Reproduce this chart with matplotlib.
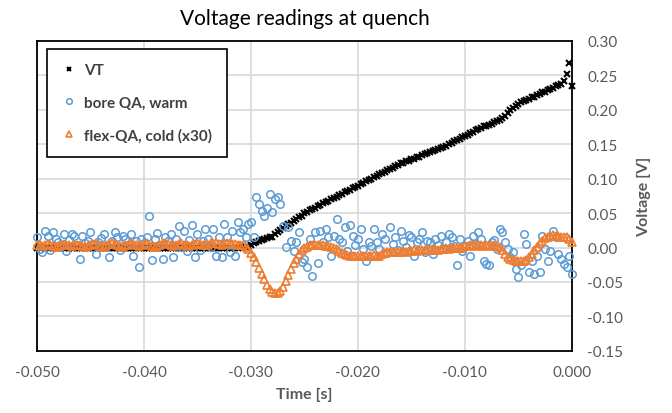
import numpy as np
import matplotlib
matplotlib.use("Agg")
import matplotlib.pyplot as plt

plt.rcParams['font.family'] = ['Lato', 'DejaVu Sans']

# sampling grid of the scope trace, 0.25 ms steps from -50 ms to 0
dt = 0.00025
n_samples = 201

# VT [V]
vt = [
    0.000, 0.000, 0.000, 0.000, 0.000, 0.000, 0.000, 0.000, 0.000, 0.000,
    0.000, 0.000, 0.000, 0.000, 0.000, 0.000, 0.000, 0.000, 0.000, 0.000,
    0.000, 0.000, 0.000, 0.000, 0.000, 0.000, 0.000, 0.000, 0.000, 0.000,
    0.000, 0.000, 0.000, 0.000, 0.000, 0.000, 0.000, 0.000, 0.000, 0.000,
    0.000, 0.000, 0.000, 0.000, 0.000, 0.000, 0.000, 0.000, 0.000, 0.000,
    0.000, 0.000, 0.000, 0.000, 0.000, 0.000, 0.000, 0.000, 0.000, 0.000,
    0.000, 0.000, 0.000, 0.000, 0.000, 0.000, 0.000, 0.000, 0.000, 0.000,
    0.000, 0.000, 0.000, 0.000, 0.000, 0.000, 0.001, 0.001, 0.001, 0.002,
    0.004, 0.006, 0.008, 0.010, 0.011, 0.012, 0.014, 0.015, 0.016, 0.019,
    0.022, 0.025, 0.029, 0.031, 0.034, 0.036, 0.038, 0.041, 0.044, 0.046,
    0.050, 0.052, 0.054, 0.056, 0.058, 0.060, 0.062, 0.064, 0.066, 0.068,
    0.070, 0.072, 0.074, 0.076, 0.078, 0.080, 0.082, 0.084, 0.086, 0.088,
    0.090, 0.092, 0.094, 0.096, 0.098, 0.100, 0.102, 0.104, 0.106, 0.108,
    0.110, 0.112, 0.114, 0.116, 0.118, 0.120, 0.122, 0.123, 0.125, 0.126,
    0.128, 0.129, 0.131, 0.132, 0.134, 0.136, 0.137, 0.139, 0.140, 0.142,
    0.143, 0.145, 0.146, 0.148, 0.150, 0.152, 0.154, 0.156, 0.158, 0.160,
    0.162, 0.164, 0.166, 0.168, 0.170, 0.172, 0.174, 0.176, 0.177, 0.178,
    0.180, 0.182, 0.183, 0.185, 0.188, 0.191, 0.195, 0.199, 0.203, 0.206,
    0.209, 0.211, 0.212, 0.214, 0.216, 0.218, 0.219, 0.221, 0.223, 0.225,
    0.226, 0.228, 0.230, 0.232, 0.234, 0.236, 0.238, 0.242, 0.252, 0.268,
    0.235,
]

# bore QA, warm [V]
bore_qa = [
    0.015, -0.002, -0.006, 0.024, 0.017, -0.004, 0.022, 0.013, 0.008, 0.002,
    0.020, -0.005, 0.011, 0.020, 0.017, 0.003, -0.016, 0.017, 0.006, 0.010,
    0.022, 0.005, -0.009, 0.008, 0.014, 0.020, 0.001, -0.014, 0.010, 0.022,
    0.015, -0.003, 0.017, 0.012, 0.004, 0.019, -0.012, 0.009, -0.028, 0.013,
    0.006, 0.016, 0.046, -0.018, 0.012, 0.021, 0.003, -0.016, 0.016, 0.009,
    0.020, -0.014, 0.012, 0.031, 0.001, 0.024, -0.005, 0.011, 0.032, -0.014,
    0.020, -0.003, 0.009, 0.027, 0.013, 0.001, 0.027, -0.012, 0.016, -0.014,
    0.034, 0.015, -0.006, 0.024, -0.013, 0.037, 0.023, 0.027, 0.015, 0.034,
    0.037, 0.015, 0.073, 0.063, 0.053, 0.046, 0.058, 0.078, 0.052, 0.070,
    0.073, 0.063, 0.031, 0.001, 0.030, 0.010, -0.005, 0.008, 0.022, -0.021,
    -0.016, -0.028, 0.012, -0.041, 0.022, -0.022, 0.024, 0.008, 0.027, 0.015,
    -0.012, 0.017, 0.042, 0.013, 0.008, 0.030, -0.005, 0.032, 0.017, 0.003,
    0.013, 0.027, -0.002, -0.019, 0.008, 0.002, 0.027, 0.008, -0.002, 0.020,
    0.012, -0.008, 0.030, 0.005, 0.016, -0.004, 0.024, 0.010, 0.001, 0.018,
    0.015, -0.012, 0.008, 0.013, 0.022, -0.006, 0.010, 0.008, -0.010, 0.013,
    0.004, 0.017, -0.002, 0.008, 0.019, 0.015, 0.002, -0.026, 0.012, -0.005,
    0.002, 0.010, -0.012, 0.017, 0.005, 0.022, 0.013, -0.019, -0.024, -0.026,
    0.008, 0.011, -0.002, 0.027, 0.022, 0.008, -0.002, -0.014, -0.006, -0.031,
    -0.043, -0.026, 0.020, 0.005, -0.035, -0.019, -0.038, -0.012, -0.035, 0.017,
    -0.002, -0.019, -0.005, 0.024, 0.015, -0.010, -0.016, -0.024, -0.028, -0.012,
    -0.038,
]

# flex-QA, cold, scaled x30 [V]
flex_qa = [
    0.004, 0.003, 0.002, 0.003, 0.005, 0.004, 0.002, 0.001, 0.002, 0.004,
    0.005, 0.004, 0.003, 0.002, 0.003, 0.004, 0.003, 0.002, 0.001, 0.002,
    0.003, 0.005, 0.006, 0.004, 0.002, 0.001, 0.003, 0.005, 0.006, 0.005,
    0.003, 0.002, 0.001, 0.003, 0.004, 0.006, 0.005, 0.003, 0.002, 0.004,
    0.005, 0.006, 0.004, 0.002, 0.001, 0.002, 0.004, 0.006, 0.007, 0.005,
    0.003, 0.002, 0.003, 0.005, 0.006, 0.004, 0.003, 0.002, 0.003, 0.005,
    0.006, 0.005, 0.004, 0.003, 0.004, 0.006, 0.007, 0.006, 0.005, 0.004,
    0.005, 0.006, 0.006, 0.005, 0.005, 0.004, 0.004, 0.003, 0.001, -0.002,
    -0.008, -0.014, -0.021, -0.029, -0.038, -0.046, -0.054, -0.060, -0.064, -0.066,
    -0.066, -0.063, -0.057, -0.049, -0.040, -0.031, -0.023, -0.016, -0.009, -0.004,
    -0.001, 0.001, 0.003, 0.004, 0.004, 0.004, 0.003, 0.003, 0.002, 0.002,
    0.001, 0.000, -0.002, -0.005, -0.008, -0.010, -0.011, -0.012, -0.012, -0.012,
    -0.012, -0.013, -0.012, -0.012, -0.013, -0.012, -0.011, -0.012, -0.012, -0.010,
    -0.008, -0.007, -0.007, -0.006, -0.007, -0.006, -0.006, -0.005, -0.006, -0.005,
    -0.005, -0.004, -0.005, -0.004, -0.004, -0.003, -0.004, -0.003, -0.003, -0.002,
    -0.003, -0.002, -0.002, -0.001, -0.002, -0.001, -0.001, 0.000, -0.001, 0.000,
    0.002, 0.002, 0.003, 0.003, 0.002, 0.003, 0.003, 0.002, 0.003, 0.003,
    0.002, 0.003, 0.002, 0.001, -0.004, -0.009, -0.014, -0.017, -0.018, -0.019,
    -0.019, -0.019, -0.019, -0.018, -0.014, -0.009, -0.004, 0.001, 0.006, 0.010,
    0.014, 0.016, 0.017, 0.018, 0.017, 0.017, 0.016, 0.016, 0.015, 0.012,
    0.008,
]

time_s = -0.05 + dt * np.arange(n_samples)

x_ticks = [-0.05, -0.04, -0.03, -0.02, -0.01, 0.0]
y_ticks = [-0.15, -0.10, -0.05, 0.00, 0.05, 0.10, 0.15, 0.20, 0.25, 0.30]

txt_gray = '#595959'

fig = plt.figure(figsize=(6.72, 4.14), dpi=100)
ax = fig.add_axes([0.055, 0.150, 0.796, 0.749])

ax.plot(time_s, vt, linestyle='none', marker='x', markersize=4, mew=1.5,
        color='black', label='VT', clip_on=False, zorder=3)
ax.plot(time_s, bore_qa, linestyle='none', marker='o', markersize=5.4, mew=1.1,
        markerfacecolor='none', markeredgecolor='#5b9bd5', label='bore QA, warm',
        clip_on=False, zorder=4)
ax.plot(time_s, flex_qa, linestyle='none', marker='^', markersize=5.8, mew=1.2,
        markerfacecolor='none', markeredgecolor='#ed7d31', label='flex-QA, cold (x30)',
        clip_on=False, zorder=5)

ax.set_xlim(-0.05, 0.0)
ax.set_ylim(-0.15, 0.30)
ax.set_xticks(x_ticks)
ax.set_yticks(y_ticks)
ax.set_xticklabels([f'{v:.3f}' for v in x_ticks])
ax.set_yticklabels([f'{v:.2f}' for v in y_ticks])
ax.yaxis.tick_right()
ax.yaxis.set_label_position('right')
ax.tick_params(axis='both', length=0, labelsize=11, labelcolor=txt_gray)
ax.tick_params(axis='x', pad=10)
ax.tick_params(axis='y', pad=11)

ax.grid(True, color='#d9d9d9', linewidth=1.2)
ax.set_axisbelow(True)
for sp in ax.spines.values():
    sp.set_color('black')
    sp.set_linewidth(1.3)

ax.set_xlabel('Time [s]', fontsize=11.5, fontweight='bold', color=txt_gray, labelpad=6)
ax.set_ylabel('Voltage [V]', fontsize=11.5, fontweight='bold', color=txt_gray, labelpad=10)
ax.set_title('Voltage readings at quench', fontsize=15, color='black', pad=12)

leg = ax.legend(loc='upper left', bbox_to_anchor=(0.0187, 0.974), borderaxespad=0,
                fancybox=False, edgecolor='black', framealpha=1,
                prop={'weight': 'bold', 'size': 11}, handlelength=1.0,
                handletextpad=0.5, labelspacing=1.2, borderpad=0.95, markerscale=0.75)
leg.get_frame().set_linewidth(1.2)
for t in leg.get_texts():
    t.set_color('#404040')

fig.savefig('out.png', dpi=100)
